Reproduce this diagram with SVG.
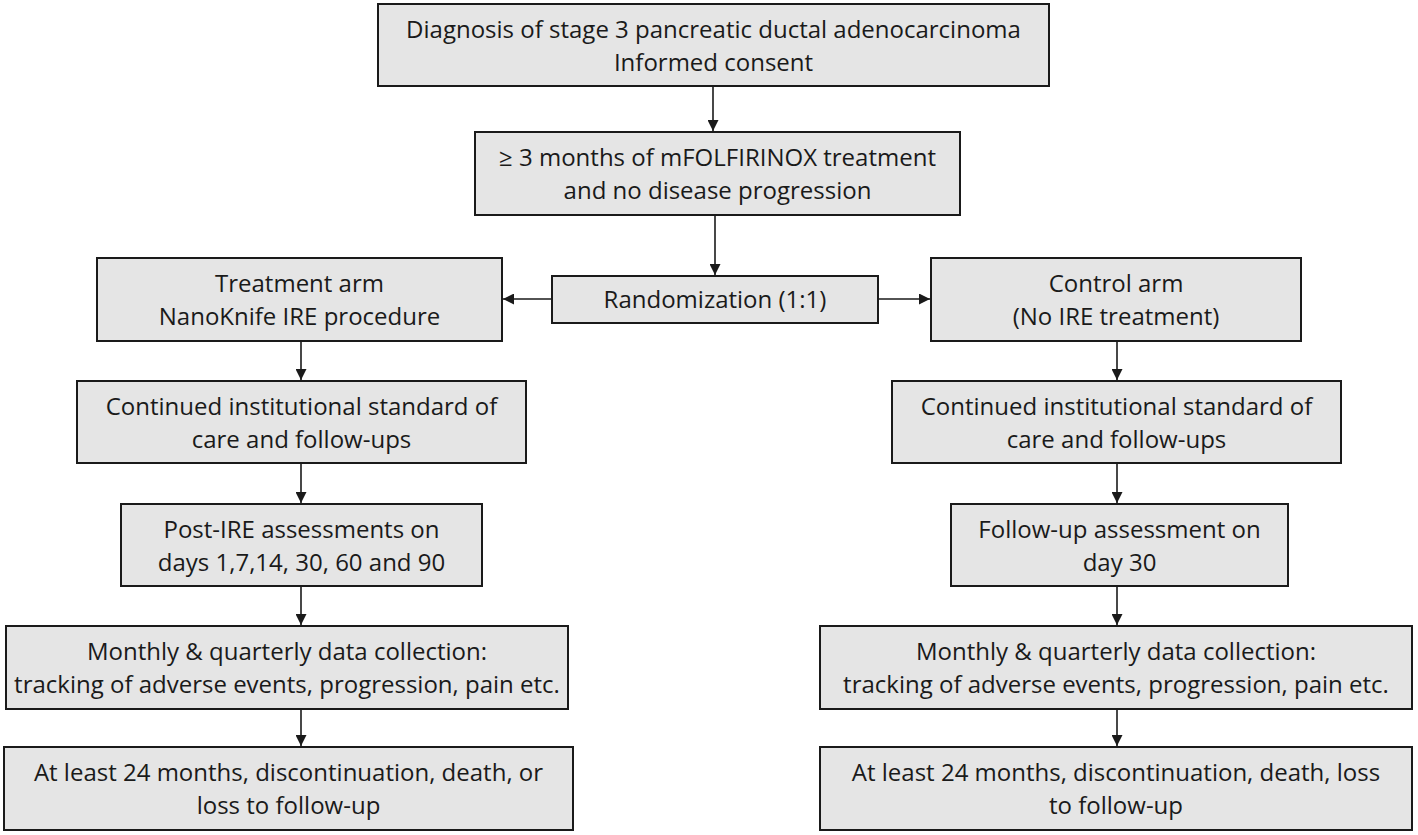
<svg xmlns="http://www.w3.org/2000/svg" width="1418" height="835" viewBox="0 0 1418 835">
<style>
.box{fill:#e5e5e5;stroke:#1a1a1a;stroke-width:2}
.t{font-family:"Open Sans","Liberation Sans",sans-serif;font-size:24px;fill:#1a1a1a;text-anchor:middle}
.c{stroke:#1a1a1a;stroke-width:1.6;fill:none;marker-end:url(#ah)}
</style>
<defs>
<marker id="ah" viewBox="0 0 10 10" refX="10" refY="5" markerUnits="userSpaceOnUse" markerWidth="11" markerHeight="11" orient="auto">
<path d="M0,0 L10,5 L0,10 z" fill="#1a1a1a"/>
</marker>
</defs>
<rect width="1418" height="835" fill="#ffffff"/>
<g id="connectors">
<line class="c" x1="713" y1="86" x2="713" y2="131"/>
<line class="c" x1="715" y1="215" x2="715" y2="275"/>
<line class="c" x1="552" y1="299" x2="503" y2="299"/>
<line class="c" x1="878" y1="299" x2="930" y2="299"/>
<line class="c" x1="301" y1="341" x2="301" y2="380"/>
<line class="c" x1="301" y1="463" x2="301" y2="503"/>
<line class="c" x1="301" y1="586" x2="301" y2="625"/>
<line class="c" x1="301" y1="709" x2="301" y2="746"/>
<line class="c" x1="1117" y1="341" x2="1117" y2="380"/>
<line class="c" x1="1117" y1="463" x2="1117" y2="503"/>
<line class="c" x1="1117" y1="586" x2="1117" y2="625"/>
<line class="c" x1="1117" y1="709" x2="1117" y2="746"/>
</g>
<g id="n1"><rect class="box" x="378" y="4" width="671" height="82"/>
<text class="t" x="713.5" y="38">Diagnosis of stage 3 pancreatic ductal adenocarcinoma</text>
<text class="t" x="713.5" y="71">Informed consent</text></g>
<g id="n2"><rect class="box" x="475" y="132" width="485" height="83"/>
<text class="t" x="717.5" y="166">≥ 3 months of mFOLFIRINOX treatment</text>
<text class="t" x="717.5" y="199">and no disease progression</text></g>
<g id="n3"><rect class="box" x="552" y="276" width="326" height="47"/>
<text class="t" x="715" y="308">Randomization (1:1)</text></g>
<g id="n4"><rect class="box" x="97" y="258" width="405" height="83"/>
<text class="t" x="299.5" y="292">Treatment arm</text>
<text class="t" x="299.5" y="325">NanoKnife IRE procedure</text></g>
<g id="n5"><rect class="box" x="931" y="258" width="370" height="83"/>
<text class="t" x="1116" y="292">Control arm</text>
<text class="t" x="1116" y="325">(No IRE treatment)</text></g>
<g id="n6"><rect class="box" x="77" y="381" width="449" height="82"/>
<text class="t" x="301.5" y="415">Continued institutional standard of</text>
<text class="t" x="301.5" y="448">care and follow-ups</text></g>
<g id="n7"><rect class="box" x="892" y="381" width="449" height="82"/>
<text class="t" x="1116.5" y="415">Continued institutional standard of</text>
<text class="t" x="1116.5" y="448">care and follow-ups</text></g>
<g id="n8"><rect class="box" x="121" y="504" width="361" height="82"/>
<text class="t" x="301.5" y="538">Post-IRE assessments on</text>
<text class="t" x="301.5" y="571">days 1,7,14, 30, 60 and 90</text></g>
<g id="n9"><rect class="box" x="951" y="504" width="337" height="82"/>
<text class="t" x="1119.5" y="538">Follow-up assessment on</text>
<text class="t" x="1119.5" y="571">day 30</text></g>
<g id="n10"><rect class="box" x="6" y="626" width="562" height="83"/>
<text class="t" x="287" y="660">Monthly &amp; quarterly data collection:</text>
<text class="t" x="287" y="693">tracking of adverse events, progression, pain etc.</text></g>
<g id="n11"><rect class="box" x="820" y="626" width="592" height="83"/>
<text class="t" x="1116" y="660">Monthly &amp; quarterly data collection:</text>
<text class="t" x="1116" y="693">tracking of adverse events, progression, pain etc.</text></g>
<g id="n12"><rect class="box" x="4" y="747" width="569" height="83"/>
<text class="t" x="288.5" y="781">At least 24 months, discontinuation, death, or</text>
<text class="t" x="288.5" y="814">loss to follow-up</text></g>
<g id="n13"><rect class="box" x="820" y="747" width="592" height="83"/>
<text class="t" x="1116" y="781">At least 24 months, discontinuation, death, loss</text>
<text class="t" x="1116" y="814">to follow-up</text></g>
</svg>
